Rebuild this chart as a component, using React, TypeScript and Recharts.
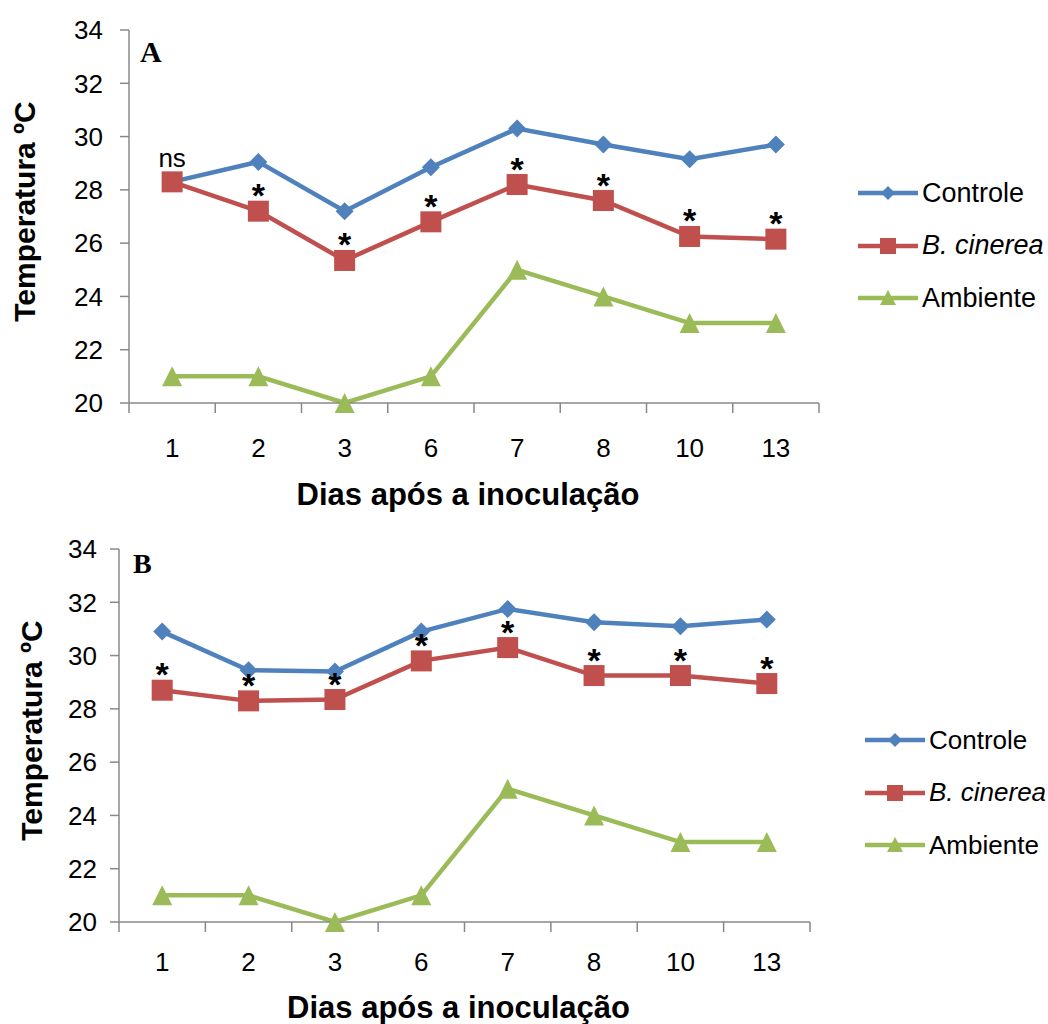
import React from 'react';
import { LineChart, Line, XAxis, YAxis, Legend, LabelList } from 'recharts';

const days = ['1', '2', '3', '6', '7', '8', '10', '13'];

const controleA = [28.3, 29.05, 27.2, 28.85, 30.3, 29.7, 29.15, 29.7];
const cinereaA = [28.3, 27.2, 25.35, 26.8, 28.2, 27.6, 26.25, 26.15];
const ambienteA = [21, 21, 20, 21, 25, 24, 23, 23];
const sigA = ['ns', '*', '*', '*', '*', '*', '*', '*'];

const controleB = [30.9, 29.45, 29.4, 30.9, 31.75, 31.25, 31.1, 31.35];
const cinereaB = [28.7, 28.3, 28.35, 29.8, 30.3, 29.25, 29.25, 28.95];
const ambienteB = [21, 21, 20, 21, 25, 24, 23, 23];
const sigB = ['*', '*', '*', '*', '*', '*', '*', '*'];

const yTicks = [20, 22, 24, 26, 28, 30, 32, 34];
const bandEdges = [0, 1, 2, 3, 4, 5, 6, 7, 8];
const legendOrder = ['controle', 'cinerea', 'ambiente'];

const BLUE = '#4F81BD';
const RED = '#C0504D';
const GREEN = '#9BBB59';
const AXIS = '#888888';
const FONT = '"Liberation Sans", Arial, sans-serif';

// pos = centre of each category band on the 0..8 edge axis
const buildRows = (controle: number[], cinerea: number[], ambiente: number[], sig: string[]) =>
  days.map((d, i) => ({ day: d, pos: i + 0.5, controle: controle[i], cinerea: cinerea[i], ambiente: ambiente[i], sig: sig[i] }));

const Diamond = (p: any) => {
  const { cx, cy } = p;
  if (cx == null || cy == null) return <g key={p.key} />;
  return <path key={p.key} d={`M${cx},${cy - 9} L${cx + 9},${cy} L${cx},${cy + 9} L${cx - 9},${cy} Z`} fill={BLUE} />;
};
const Square = (p: any) => {
  const { cx, cy } = p;
  if (cx == null || cy == null) return <g key={p.key} />;
  return <rect key={p.key} x={cx - 10.5} y={cy - 10.5} width={21} height={21} fill={RED} />;
};
const Triangle = (p: any) => {
  const { cx, cy } = p;
  if (cx == null || cy == null) return <g key={p.key} />;
  return <path key={p.key} d={`M${cx},${cy - 10} L${cx + 10},${cy + 10} L${cx - 10},${cy + 10} Z`} fill={GREEN} />;
};

const EmptyTick = () => <g />;

const SigLabel = (p: any) => {
  const x = p.x ?? p.viewBox?.x;
  const y = p.y ?? p.viewBox?.y;
  if (x == null || y == null) return null;
  if (p.value === 'ns') {
    return <text x={x} y={y - 15} textAnchor="middle" fontSize={26} fontFamily={FONT} fill="#000">ns</text>;
  }
  return <text x={x} y={y - 4} textAnchor="middle" fontSize={34} fontWeight="bold" fontFamily={FONT} fill="#000">{p.value}</text>;
};

const legendIcon = (key: string, color: string) => (
  <svg width={60} height={22} style={{ display: 'block' }}>
    <line x1={0} y1={11} x2={60} y2={11} stroke={color} strokeWidth={4.5} />
    {key === 'controle' && <path d="M30,4 L37,11 L30,18 L23,11 Z" fill={color} />}
    {key === 'cinerea' && <rect x={22} y={3} width={16} height={16} fill={color} />}
    {key === 'ambiente' && <path d="M30,3 L38,18 L22,18 Z" fill={color} />}
  </svg>
);

const makeLegend = (fontSize: number) => (props: any) => {
  const items = [...(props.payload || [])].sort(
    (a: any, b: any) => legendOrder.indexOf(a.dataKey) - legendOrder.indexOf(b.dataKey)
  );
  return (
    <div style={{ fontFamily: FONT, fontSize, color: '#000' }}>
      {items.map((it: any) => (
        <div key={it.dataKey} style={{ display: 'flex', alignItems: 'center', height: 52.5 }}>
          {legendIcon(it.dataKey, it.color)}
          <span style={{ marginLeft: 4, fontStyle: it.dataKey === 'cinerea' ? 'italic' : 'normal', whiteSpace: 'nowrap' }}>
            {it.value}
          </span>
        </div>
      ))}
    </div>
  );
};

type PanelProps = {
  rows: any[];
  letter: string;
  top: number;
  marginTop: number;
  marginRight: number;
  yWidth: number;
  yTickMargin: number;
  yTitleX: number;
  xHeight: number;
  xTickMargin: number;
  xTitleY: number;
  legendPos: { left: number; top: number };
  legendFont: number;
  letterPos: { x: number; y: number; size: number };
};

function Panel(cfg: PanelProps) {
  return (
    <div style={{ position: 'absolute', left: 0, top: cfg.top, width: 1048, height: 512 }}>
      <LineChart
        width={1048}
        height={512}
        data={cfg.rows}
        margin={{ top: cfg.marginTop, right: cfg.marginRight, bottom: 0, left: 0 }}
      >
        <XAxis
          xAxisId="a_edges"
          dataKey="pos"
          type="number"
          domain={[0, 8]}
          ticks={bandEdges}
          allowDataOverflow
          height={1}
          tick={EmptyTick}
          tickSize={10}
          stroke={AXIS}
          strokeWidth={1.5}
        />
        <XAxis
          xAxisId="b_cat"
          dataKey="day"
          scale="band"
          height={cfg.xHeight}
          axisLine={false}
          tickLine={false}
          tickSize={0}
          tickMargin={cfg.xTickMargin}
          tick={{ fontSize: 26, fill: '#000', stroke: 'none', fontFamily: FONT }}
          label={{
            content: (lp: any) => {
              const vb = lp.viewBox;
              return (
                <text x={vb.x + vb.width / 2 - 6} y={vb.y + cfg.xTitleY} textAnchor="middle" fontSize={31} fontWeight="bold" fontFamily={FONT} fill="#000">
                  Dias após a inoculação
                </text>
              );
            },
          }}
        />
        <YAxis
          yAxisId="temp"
          domain={[20, 34]}
          ticks={yTicks}
          width={cfg.yWidth}
          tickSize={9}
          tickMargin={cfg.yTickMargin}
          stroke={AXIS}
          strokeWidth={1.5}
          tick={{ fontSize: 26, fill: '#000', stroke: 'none', fontFamily: FONT }}
          label={{
            content: (lp: any) => {
              const vb = lp.viewBox;
              const cy = vb.y + vb.height / 2 - 5;
              return (
                <text transform={`translate(${cfg.yTitleX},${cy}) rotate(-90)`} textAnchor="middle" fontSize={30} fontWeight="bold" fontFamily={FONT} fill="#000">
                  Temperatura ºC
                </text>
              );
            },
          }}
        />
        <Legend
          layout="horizontal"
          verticalAlign="middle"
          align="center"
          content={makeLegend(cfg.legendFont)}
          wrapperStyle={{ position: 'absolute', left: cfg.legendPos.left, top: cfg.legendPos.top, width: 'auto' }}
        />
        <Line xAxisId="b_cat" yAxisId="temp" dataKey="controle" name="Controle" stroke={BLUE} strokeWidth={4.5} dot={Diamond} activeDot={false} isAnimationActive={false} />
        <Line xAxisId="b_cat" yAxisId="temp" dataKey="cinerea" name="B. cinerea" stroke={RED} strokeWidth={4.5} dot={Square} activeDot={false} isAnimationActive={false}>
          <LabelList dataKey="sig" content={SigLabel} />
        </Line>
        <Line xAxisId="b_cat" yAxisId="temp" dataKey="ambiente" name="Ambiente" stroke={GREEN} strokeWidth={4.5} dot={Triangle} activeDot={false} isAnimationActive={false} />
      </LineChart>
      <svg style={{ position: 'absolute', left: 0, top: 0, pointerEvents: 'none' }} width={1048} height={512}>
        <text x={cfg.letterPos.x} y={cfg.letterPos.y} fontSize={cfg.letterPos.size} fontWeight="bold" fontFamily='"Liberation Serif", "Times New Roman", serif' fill="#000">
          {cfg.letter}
        </text>
      </svg>
    </div>
  );
}

export default function App() {
  const rowsA = buildRows(controleA, cinereaA, ambienteA, sigA);
  const rowsB = buildRows(controleB, cinereaB, ambienteB, sigB);
  return (
    <div style={{ position: 'absolute', left: 0, top: 0, width: 1048, height: 1024, background: '#fff' }}>
      <Panel
        rows={rowsA}
        letter="A"
        top={0}
        marginTop={30}
        marginRight={229}
        yWidth={129}
        yTickMargin={17}
        yTitleX={35}
        xHeight={108}
        xTickMargin={35}
        xTitleY={101}
        legendPos={{ left: 858, top: 167 }}
        legendFont={27}
        letterPos={{ x: 140, y: 62, size: 30 }}
      />
      <Panel
        rows={rowsB}
        letter="B"
        top={512}
        marginTop={37}
        marginRight={238}
        yWidth={119}
        yTickMargin={13}
        yTitleX={42}
        xHeight={101}
        xTickMargin={30}
        xTitleY={95}
        legendPos={{ left: 865, top: 202 }}
        legendFont={26}
        letterPos={{ x: 133, y: 61, size: 28 }}
      />
    </div>
  );
}
